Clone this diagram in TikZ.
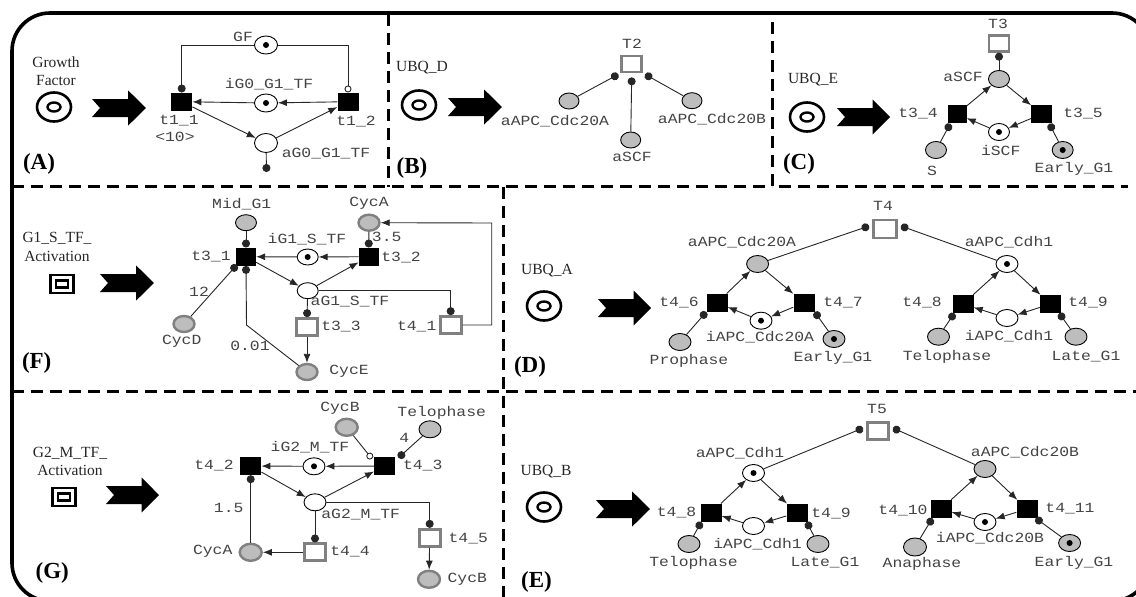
\documentclass[tikz,border=0pt]{standalone}
\usepackage{fontspec}
\setmainfont{Liberation Serif}
\setmonofont[FakeStretch=1.17]{Liberation Mono}
\usetikzlibrary{arrows.meta,shapes.geometric}
\definecolor{lbl}{HTML}{444444}
\definecolor{plgray}{HTML}{BDBDBD}
\definecolor{bordergray}{HTML}{808080}
\tikzset{
 pl/.style={ellipse,draw=black,fill=white,line width=0.9pt,inner sep=0pt,minimum width=22pt,minimum height=17pt},
 plg/.style={pl,fill=plgray},
 plt/.style={pl,fill=plgray,draw=bordergray,line width=2.4pt},
 tok/.style={path picture={\fill[black] (path picture bounding box.center) circle (3pt);}},
 tr/.style={rectangle,fill=black,inner sep=0pt,minimum width=21pt,minimum height=18pt},
 gtr/.style={rectangle,draw=bordergray,fill=white,line width=2.7pt,inner sep=0pt,minimum width=21pt,minimum height=17pt},
 lab/.style={inner sep=0pt,text=lbl,font=\ttfamily\fontsize{14}{16}\selectfont},
 ser/.style={inner sep=0pt,text=black!85,font=\fontsize{15.5}{18}\selectfont},
 tag/.style={inner sep=0pt,text=black,font=\bfseries\fontsize{23}{26}\selectfont},
 conn/.style={line width=0.9pt,draw=black!85},
 arr/.style={conn,-{Latex[length=9pt,width=7pt]}},
 dotend/.style={conn,-{Circle[length=8pt]}},
 opend/.style={conn,-{Circle[open,length=7pt,fill=white]}},
 divider/.style={line width=3pt,dash pattern=on 12pt off 7pt},
 tgt/.style={ellipse,draw=black,line width=2.6pt,inner sep=0pt,minimum width=34pt,minimum height=29pt,
   path picture={\draw[line width=2.4pt] (path picture bounding box.center) ellipse [x radius=6.5pt,y radius=4.5pt];}},
 sqt/.style={rectangle,draw=black,line width=2.8pt,inner sep=0pt,minimum width=23pt,minimum height=18pt,
   path picture={\draw[line width=2.2pt] (path picture bounding box.center) ++(-6pt,-3.5pt) rectangle ++(12pt,7pt);}}
}
\newcommand\bigarr[3]{\fill[black] ({#1},{#2-9}) -- ({#1+0.67*#3},{#2-9}) -- ({#1+0.67*#3},{#2-17.5}) -- ({#1+#3},{#2}) -- ({#1+0.67*#3},{#2+17.5}) -- ({#1+0.67*#3},{#2+9}) -- ({#1},{#2+9}) -- ({#1+8},{#2}) -- cycle;}
\begin{document}
\begin{tikzpicture}[x=1pt,y=-1pt]
\clip (0,0) rectangle (1136,597);
\fill[white] (0,0) rectangle (1136,597);
% frame and dividers
\draw[line width=3.6pt,rounded corners=38pt] (12,13) rectangle (1150,601);
\draw[divider] (388,14) -- (388,187);
\draw[divider] (772,22) -- (772,186.5) -- (1128,186.5);
\draw[divider] (12,186.5) -- (772,186.5);
\draw[divider] (12,391.5) -- (1136,391.5);
\draw[divider] (503,186.5) -- (503,597);

% ---------- A
\node[ser] (a1) at (56,62) {Growth};
\node[ser] (a2) at (56,81) {Factor};
\node[tgt] (aS) at (54,107) {};
\bigarr{92}{108}{54}
\node[pl,tok,minimum width=23pt,minimum height=18pt] (GF) at (266,45) {};
\node[pl,tok,minimum width=23pt,minimum height=18pt] (iG0) at (266,103) {};
\node[pl,minimum width=23pt,minimum height=19pt] (aG0) at (266,143) {};
\node[tr] (t11) at (181.7,101.7) {};
\node[tr] (t12) at (348,101.7) {};
\coordinate (aGe) at (266.5,172);
\draw[dotend] (GF.west) -| (t11.north);
\draw[opend] (GF.east) -| (t12.north);
\draw[arr] (t12) -- (iG0);
\draw[arr] (iG0) -- (t11);
\draw[arr] (t11) -- (aG0);
\draw[arr] (aG0) -- (t12);
\draw[dotend] (aG0) -- (aGe);
\node[lab] (lGF) at (243,37) {GF};
\node[lab] (liG0) at (269,84) {iG0\_G1\_TF};
\node[lab] (lt11) at (179,121) {t1\_1};
\node[lab] (l10) at (175,137) {<10>};
\node[lab] (lt12) at (356,122) {t1\_2};
\node[lab] (laG0) at (326,154) {aG0\_G1\_TF};
\node[tag] (tA) at (39,164) {(A)};

% ---------- B
\node[ser] (b1) at (422,68) {UBQ\_D};
\node[tgt] (bS) at (419,105) {};
\bigarr{448}{107}{54}
\node[gtr,minimum width=20pt,minimum height=16pt] (T2) at (631.7,64) {};
\node[plg,minimum width=20pt,minimum height=16pt] (bA) at (569,101) {};
\node[plg,minimum width=20pt,minimum height=16pt] (bS2) at (630.7,140) {};
\node[plg,minimum width=20pt,minimum height=16pt] (bB) at (692,100.7) {};
\draw[dotend] (bA) -- ([xshift=-2pt,yshift=-1pt]T2.south west);
\draw[dotend] (bS2) -- ([yshift=-4pt]T2.south);
\draw[dotend] (bB) -- ([xshift=2pt,yshift=-1pt]T2.south east);
\node[lab] (lT2) at (632,44) {T2};
\node[lab] (lbA) at (555,121) {aAPC\_Cdc20A};
\node[lab] (lbB) at (712,119) {aAPC\_Cdc20B};
\node[lab] (lbS) at (632,157) {aSCF};
\node[tag] (tB) at (412,168) {(B)};

% ---------- C
\node[ser] (c1) at (813,80) {UBQ\_E};
\node[tgt] (cS) at (807,117) {};
\bigarr{837}{117}{53}
\node[gtr,minimum width=20pt,minimum height=16pt] (T3) at (999,43.3) {};
\node[plg,minimum width=21pt,minimum height=17pt] (caS) at (999,79) {};
\node[tr,minimum width=19pt] (t34) at (957,114) {};
\node[tr,minimum width=21pt] (t35) at (1041.7,114) {};
\node[pl,tok,minimum width=21pt,minimum height=17pt] (ciS) at (999,132) {};
\node[plg,minimum width=21pt,minimum height=17pt] (cSS) at (936,150) {};
\node[plg,tok,minimum width=21pt,minimum height=17pt] (cE) at (1062.7,150) {};
\draw[conn,-{Circle[length=8pt]}] (caS) -- (T3.south);
\draw[arr] (t34) -- (caS);
\draw[arr] (caS) -- (t35);
\draw[arr] (t35) -- (ciS);
\draw[arr] (ciS) -- (t34);
\draw[dotend] (cSS) -- ([xshift=3pt,yshift=-0.5pt]t34.south west);
\draw[dotend] (cE) -- ([xshift=-3pt,yshift=-0.5pt]t35.south east);
\node[lab] (lT3) at (998,24) {T3};
\node[lab] (lcA) at (963,77) {aSCF};
\node[lab] (lt34) at (918,114) {t3\_4};
\node[lab] (lt35) at (1083,114) {t3\_5};
\node[lab] (lci) at (1000.7,150.7) {iSCF};
\node[lab] (lcS) at (932,171) {S};
\node[lab] (lcE) at (1074,169) {Early\_G1};
\node[tag] (tC) at (799,164) {(C)};

% ---------- F
\node[ser] (f1) at (57,238) {G1\_S\_TF\_};
\node[ser] (f2) at (57,256) {Activation};
\node[sqt] (fS) at (62,284) {};
\bigarr{100}{283}{54}
\node[plg,minimum width=21pt,minimum height=16pt] (fM) at (246,222.7) {};
\node[plt,minimum width=21pt,minimum height=16pt] (fA) at (369,222.7) {};
\node[tr,minimum width=20pt] (t31) at (246,256.7) {};
\node[tr,minimum width=20pt] (t32) at (368.7,256.7) {};
\node[pl,tok,minimum width=21pt,minimum height=16pt] (fi) at (307.7,257) {};
\node[pl,minimum width=21pt,minimum height=16pt] (fa) at (307.7,290.7) {};
\node[gtr] (t33) at (307,327) {};
\node[gtr] (t41) at (450.7,325) {};
\node[plt,minimum width=21pt,minimum height=16pt] (fD) at (184,324) {};
\node[plt,minimum width=21pt,minimum height=16pt] (fE) at (307,372) {};
\coordinate (fc1) at (491.7,223);
\coordinate (fc2) at (246.5,325);
\draw[dotend] (fM) -- (t31.north);
\draw[dotend] (fA) -- (t32.north);
\draw[arr] (t32) -- (fi);
\draw[arr] (fi) -- (t31);
\draw[arr] (t31) -- (fa);
\draw[arr] (fa) -- (t32);
\draw[dotend] (fa) -- (t33.north);
\draw[arr] (t33) -- (fE);
\draw[dotend] (fa.east) -| (t41.north);
\draw[arr] (t41.east) -| (fc1) -- (fA.east);
\draw[dotend] (fD) -- ([xshift=1pt,yshift=1pt]t31.south west);
\draw[dotend] (fE) -- (fc2) -- (t31.south);
\node[lab] (lfM) at (241.7,204) {Mid\_G1};
\node[lab] (lfA) at (369,203) {CycA};
\node[lab] (lfi) at (307,239) {iG1\_S\_TF};
\node[lab] (lf35) at (386.7,237) {3.5};
\node[lab] (lt31) at (211,257) {t3\_1};
\node[lab] (lt32) at (401,258) {t3\_2};
\node[lab] (lfa) at (350,302) {aG1\_S\_TF};
\node[lab] (lf12) at (199,291.7) {12};
\node[lab] (lt33) at (341,326.7) {t3\_3};
\node[lab] (lt41) at (416.7,326.7) {t4\_1};
\node[lab] (lfD) at (181.7,341.7) {CycD};
\node[lab] (lf01) at (250,345.7) {0.01};
\node[lab] (lfE) at (349,371.3) {CycE};
\node[tag] (tF) at (36.7,362.7) {(F)};

% ---------- D
\node[ser] (d1) at (547,271) {UBQ\_A};
\node[tgt] (dS) at (544,306) {};
\bigarr{598}{308}{53}
\node[gtr,minimum width=23pt,minimum height=18pt] (T4) at (885,229) {};
\node[plg] (dA) at (757.6,264) {};
\node[pl,tok] (dH) at (1007,264) {};
\node[tr] (t46) at (717,302.7) {};
\node[tr] (t47) at (804,302.7) {};
\node[tr] (t48) at (963,304) {};
\node[tr] (t49) at (1050.5,304) {};
\node[pl,tok] (diA) at (761,320.7) {};
\node[pl] (diH) at (1007,318) {};
\node[plg] (dP) at (680,342) {};
\node[plg,tok] (dE) at (834,339) {};
\node[plg] (dT) at (938.5,336.7) {};
\node[plg] (dL) at (1076,336.7) {};
\draw[dotend] (dA) -- ([xshift=-3pt,yshift=3pt]T4.west);
\draw[dotend] (dH) -- ([xshift=3pt,yshift=3pt]T4.east);
\draw[arr] (t46) -- (dA);
\draw[arr] (dA) -- (t47);
\draw[arr] (t47) -- (diA);
\draw[arr] (diA) -- (t46);
\draw[arr] (t48) -- (dH);
\draw[arr] (dH) -- (t49);
\draw[arr] (t49) -- (diH);
\draw[arr] (diH) -- (t48);
\draw[dotend] (dP) -- (t46.south west);
\draw[dotend] (dE) -- (t47.south east);
\draw[dotend] (dT) -- ([xshift=2pt]t48.south west);
\draw[dotend] (dL) -- ([xshift=-2pt]t49.south east);
\node[lab] (lT4) at (883,205.7) {T4};
\node[lab] (ldA) at (742,242) {aAPC\_Cdc20A};
\node[lab] (ldH) at (1009,242) {aAPC\_Cdh1};
\node[lab] (lt46) at (679,302.7) {t4\_6};
\node[lab] (lt47) at (843,303) {t4\_7};
\node[lab] (lt48) at (922,303) {t4\_8};
\node[lab] (lt49) at (1088,303) {t4\_9};
\node[lab] (ldiA) at (760,337) {iAPC\_Cdc20A};
\node[lab] (ldiH) at (1009,336) {iAPC\_Cdh1};
\node[lab] (ldP) at (689,361) {Prophase};
\node[lab] (ldE) at (833,358) {Early\_G1};
\node[lab] (ldT) at (947,357) {Telophase};
\node[lab] (ldL) at (1086,357) {Late\_G1};
\node[tag] (tD) at (530,367) {(D)};

% ---------- G
\node[ser] (g1) at (70,453.3) {G2\_M\_TF\_};
\node[ser] (g2) at (70,470) {Activation};
\node[sqt] (gS) at (64,497) {};
\bigarr{106}{495}{53}
\node[plt] (gB) at (346.7,427.3) {};
\node[plg] (gT) at (430,429.3) {};
\node[tr] (t42) at (250.7,466) {};
\node[tr] (t43) at (384.7,466) {};
\node[pl,tok] (gi) at (314,466.3) {};
\node[pl] (ga) at (315,502.3) {};
\node[gtr] (t44) at (315,552.3) {};
\node[gtr] (t45) at (429.7,537.7) {};
\node[plt] (gA) at (250.7,552.3) {};
\node[plt] (gB2) at (429,579.3) {};
\draw[opend] (gB) -- ([xshift=-2pt,yshift=-2pt]t43.north west);
\draw[dotend] (gT) -- ([xshift=3pt,yshift=-1pt]t43.north east);
\draw[arr] (t43) -- (gi);
\draw[arr] (gi) -- (t42);
\draw[arr] (t42) -- (ga);
\draw[arr] (ga) -- (t43);
\draw[dotend] (ga) -- (t44.north);
\draw[arr] (t44) -- (gA);
\draw[dotend] (gA) -- (t42.south);
\draw[dotend] (ga.east) -| (t45.north);
\draw[arr] (t45) -- (gB2);
\node[lab] (lgB) at (340,408) {CycB};
\node[lab] (lgT) at (441.7,412.7) {Telophase};
\node[lab] (lgi) at (310,446.7) {iG2\_M\_TF};
\node[lab] (lg4) at (404.3,437.7) {4};
\node[lab] (lt42) at (214,465.3) {t4\_2};
\node[lab] (lt43) at (422.7,466) {t4\_3};
\node[lab] (lga) at (360.7,515) {aG2\_M\_TF};
\node[lab] (lg15) at (228.7,508.3) {1.5};
\node[lab] (lgA) at (212.7,551.7) {CycA};
\node[lab] (lt44) at (350,551.7) {t4\_4};
\node[lab] (lt45) at (468.3,538.3) {t4\_5};
\node[lab] (lgB2) at (467.3,579.3) {CycB};
\node[tag] (tG) at (52.3,572.7) {(G)};

% ---------- E
\node[ser] (e1) at (546,472) {UBQ\_B};
\node[tgt] (eS) at (544,507) {};
\bigarr{596}{509}{54}
\node[gtr] (T5) at (878,431) {};
\node[pl,tok] (eH) at (753.5,473) {};
\node[plg] (eB) at (985,469) {};
\node[tr] (et48) at (711,512.7) {};
\node[tr] (et49) at (797,512.7) {};
\node[tr] (t410) at (941,509) {};
\node[tr] (t411) at (1027,509) {};
\node[pl] (eiH) at (753.5,526) {};
\node[pl,tok] (eiB) at (985,522) {};
\node[plg] (eT) at (689,544) {};
\node[plg] (eL) at (818,544) {};
\node[plg,minimum width=23pt,minimum height=18pt] (eA) at (915,547) {};
\node[plg,tok] (eE) at (1069.6,543) {};
\draw[dotend] (eH) -- ([xshift=-3pt,yshift=3pt]T5.west);
\draw[dotend] (eB) -- ([xshift=3pt,yshift=3pt]T5.east);
\draw[arr] (et48) -- (eH);
\draw[arr] (eH) -- (et49);
\draw[arr] (et49) -- (eiH);
\draw[arr] (eiH) -- (et48);
\draw[arr] (t410) -- (eB);
\draw[arr] (eB) -- (t411);
\draw[arr] (t411) -- (eiB);
\draw[arr] (eiB) -- (t410);
\draw[dotend] (eT) -- ([xshift=1pt]et48.south west);
\draw[dotend] (eL) -- ([xshift=-1pt]et49.south east);
\draw[dotend] (eA) -- ([xshift=2pt]t410.south west);
\draw[dotend] (eE) -- ([xshift=-2pt]t411.south east);
\node[lab] (lT5) at (877,409) {T5};
\node[lab] (leH) at (740,453) {aAPC\_Cdh1};
\node[lab] (leB) at (1025,452) {aAPC\_Cdc20B};
\node[lab] (let48) at (676.5,513) {t4\_8};
\node[lab] (let49) at (831,514) {t4\_9};
\node[lab] (lt410) at (903,511) {t4\_10};
\node[lab] (lt411) at (1070,509) {t4\_11};
\node[lab] (leiH) at (757.6,544) {iAPC\_Cdh1};
\node[lab] (leiB) at (990,538) {iAPC\_Cdc20B};
\node[lab] (leT) at (693.5,563) {Telophase};
\node[lab] (leL) at (825,563) {Late\_G1};
\node[lab] (leA) at (922,564) {Anaphase};
\node[lab] (leE) at (1074,563) {Early\_G1};
\node[tag] (tE) at (536.5,582) {(E)};
\end{tikzpicture}
\end{document}
